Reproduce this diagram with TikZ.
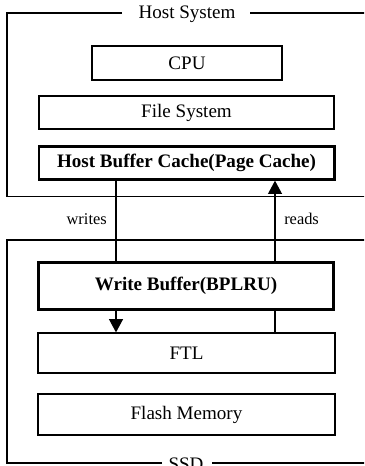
\documentclass[tikz,border=0pt]{standalone}
\usepackage{fontspec}
\setmainfont{Liberation Serif}
\usetikzlibrary{arrows.meta}
\begin{document}
\begin{tikzpicture}[x=0.75pt,y=-0.75pt,
  layer/.style={draw=black,line width=0.9pt,fill=white,inner sep=0pt,
    font=\fontsize{14.3}{16}\selectfont},
  thickbox/.style={layer,line width=2pt,font=\fontsize{14.3}{16}\selectfont\bfseries},
  frame/.style={draw=black,line width=0.9pt},
  flow/.style={draw=black,line width=0.9pt,-{Triangle[width=10.5pt,length=10pt]}},
  lbl/.style={inner sep=0pt,font=\fontsize{12.3}{14}\selectfont},
  title/.style={inner sep=0pt,font=\fontsize{14.3}{16}\selectfont}]
\useasboundingbox (0,0) rectangle (364,466);
\clip (0,0) rectangle (364,466);

% outer frames with their titles set into the top and bottom edges
\node[title] (host) at (187,14) {Host System};
\draw[frame] (122,13) -- (7,13) -- (7,196.5) -- (370,196.5);
\draw[frame] (250,13) -- (370,13);
\node[title] (ssd) at (186,464) {SSD};
\draw[frame] (162,463) -- (7,463) -- (7,240) -- (370,240);
\draw[frame] (212,463) -- (370,463);

% host layers
\node[layer,minimum width=142.5pt,minimum height=25.5pt] (cpu) at (187,63) {CPU};
\node[layer,minimum width=221.25pt,minimum height=24.75pt] (fs) at (186.5,112.5) {File System};
\node[thickbox,minimum width=221.5pt,minimum height=24.5pt] (hbc) at (186.5,163) {Host Buffer Cache(Page Cache)};

% SSD layers
\node[layer,minimum width=222.75pt,minimum height=30pt] (ftl) at (186.5,353) {FTL};
\node[layer,minimum width=222.75pt,minimum height=30.75pt] (flash) at (186.5,414.5) {Flash Memory};

% data paths between host and SSD, passing behind the write buffer
\coordinate (wx) at (116,0);
\coordinate (rx) at (275,0);
\draw[flow] (hbc.south -| wx) -- (ftl.north -| wx);
\draw[flow] (ftl.north -| rx) -- (hbc.south -| rx);
\node[lbl,anchor=east] (wlab) at (107,219) {writes};
\node[lbl,anchor=west] (rlab) at (284,219) {reads};

\node[thickbox,minimum width=221pt,minimum height=35pt] (wb) at (186,286) {Write Buffer(BPLRU)};
\end{tikzpicture}
\end{document}
